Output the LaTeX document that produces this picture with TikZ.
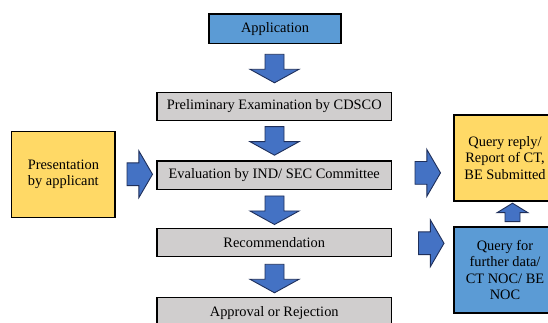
\documentclass[tikz,border=0pt]{standalone}
\usepackage{fontspec}
\setmainfont{Liberation Serif}
\newfontfamily\tnr{Liberation Serif}
\definecolor{appblue}{HTML}{5B9BD5}
\definecolor{arrblue}{HTML}{4472C4}
\definecolor{arredge}{HTML}{1F2F5A}
\definecolor{boxgray}{HTML}{D0CECE}
\definecolor{boxyellow}{HTML}{FFD966}
\tikzset{
  base/.style={draw=black, line width=1.1pt, inner sep=0pt, align=center,
    font=\tnr\fontsize{14.4}{16.5}\selectfont},
  bluebox/.style={base, fill=appblue},
  graybox/.style={base, fill=boxgray},
  yellowbox/.style={base, fill=boxyellow},
  blk/.style={fill=arrblue, draw=arredge, line width=0.9pt, line join=miter},
  darrow/.pic={\draw[blk] (-9.5,0) -- (9.5,0) -- (9.5,-15) -- (24.5,-15) -- (0,-28.5) -- (-24.5,-15) -- (-9.5,-15) -- cycle;},
  rarrow/.pic={\draw[blk] (0,-11.4) -- (0,11.4) -- (11.8,11.4) -- (11.8,23.5) -- (25.5,0) -- (11.8,-23.5) -- (11.8,-11.4) -- cycle;},
  uarrow/.pic={\draw[blk] (-7.5,0) -- (7.5,0) -- (7.5,9) -- (15.5,9) -- (0,18.5) -- (-15.5,9) -- (-7.5,9) -- cycle;}
}
\begin{document}
\begin{tikzpicture}[x=1pt,y=1pt]
\useasboundingbox (0,0) rectangle (548,323);
\clip (0,0) rectangle (548,323);
% main column
\node[bluebox, minimum width=132pt, minimum height=29.3pt] (app) at (275,294.35) {Application};
\node[graybox, minimum width=234.5pt, minimum height=28.4pt] (prelim) at (274.25,216.5) {Preliminary Examination by CDSCO};
\node[graybox, minimum width=234.5pt, minimum height=28.3pt] (eval) at (274.25,147.85) {Evaluation by IND/ SEC Committee};
\node[graybox, minimum width=234.5pt, minimum height=28.4pt] (rec) at (274.25,80.5) {Recommendation};
\node[graybox, minimum width=234.5pt, minimum height=30.7pt] (appr) at (274.25,10.35) {Approval or Rejection};
% side boxes
\node[yellowbox, minimum width=103.3pt, minimum height=85.6pt] (pres) at (63.35,148.5) {Presentation\\by applicant};
\node[yellowbox, minimum width=102pt, minimum height=86pt] (qrep) at (505,165) {Query reply/\\Report of CT,\\BE Submitted};
\node[bluebox, minimum width=102pt, minimum height=86pt] (qfor) at (505,53) {Query for\\further data/\\CT NOC/ BE\\NOC};
% block arrows
\pic at (274.5,268.7) {darrow};
\pic at (274.5,196.3) {darrow};
\pic at (274.5,127) {darrow};
\pic at (274.5,58.7) {darrow};
\pic at (127,148.7) {rarrow};
\pic at (415,150.1) {rarrow};
\pic at (418.5,79.7) {rarrow};
\pic at (512.5,101.3) {uarrow};
\end{tikzpicture}
\end{document}
